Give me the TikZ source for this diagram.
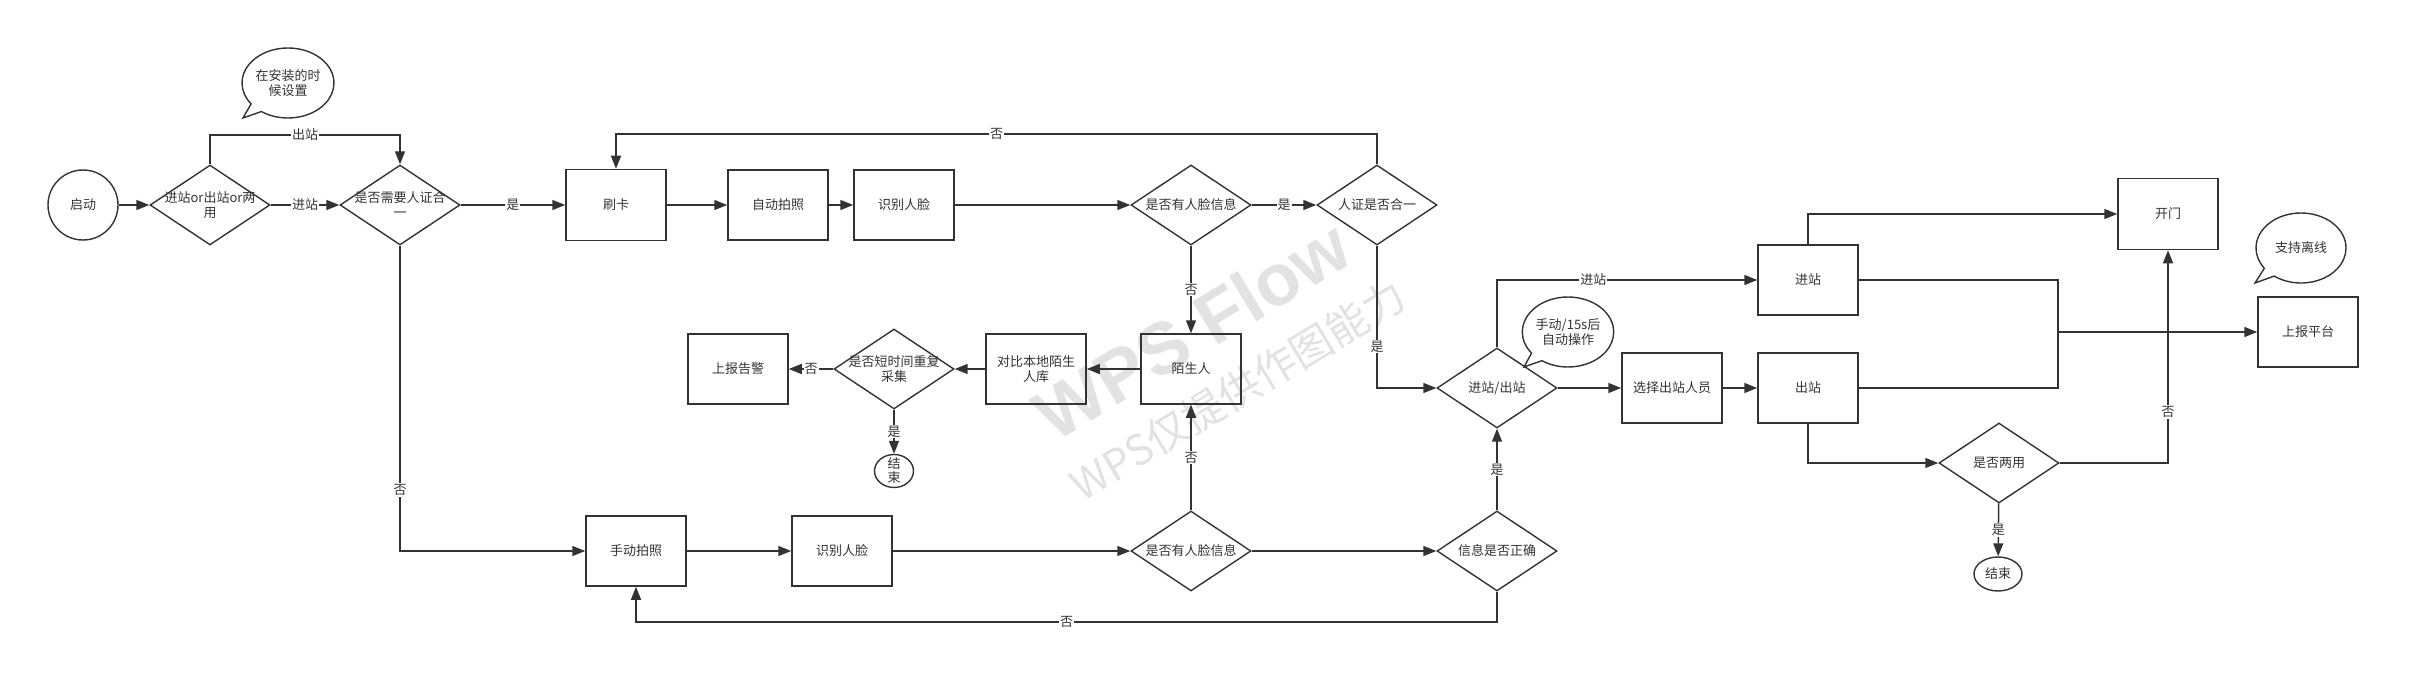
\documentclass[tikz,border=0pt]{standalone}
\usepackage{fontspec}
\setmainfont{Noto Sans CJK SC}
\newfontfamily\wmfont{Liberation Sans}
\usetikzlibrary{shapes.geometric,shapes.callouts,arrows.meta}
\definecolor{ink}{HTML}{333333}
\definecolor{wmark}{HTML}{E2E2E2}

\begin{document}
\begin{tikzpicture}[x=1pt, y=-1pt,
  every node/.style={font=\fontsize{13}{15}\selectfont, text=ink},
  box/.style={draw=ink, line width=1.5pt, minimum width=100pt, minimum height=70pt, inner sep=0pt, align=center},
  decision/.style={diamond, draw=ink, line width=1.4pt, minimum width=120pt, minimum height=80pt, inner sep=0pt},
  terminal/.style={ellipse, draw=ink, line width=1.4pt, inner sep=0pt, align=center},
  note/.style={ellipse callout, draw=ink, line width=1.4pt, minimum width=90pt, minimum height=70pt, inner sep=0pt, align=center, callout pointer arc=18},
  line/.style={draw=ink, line width=1.5pt},
  flow/.style={line, -{Triangle[length=13pt,width=10pt]}},
  lbl/.style={fill=white, inner sep=1pt},
  wm/.style={text=wmark, inner sep=0pt}]

\newcommand\TopY{205}
\newcommand\MidY{369}
\newcommand\LowY{551}

\useasboundingbox (0,0) rectangle (2420,682);

%% watermark
\node[wm, font=\wmfont\bfseries\fontsize{73}{78}\selectfont, rotate=31] (wmA) at (1192,330) {WPS Flow};
\node[wm, font=\fontsize{42}{46}\selectfont, rotate=31] (wmB) at (1238,390) {WPS仅提供作图能力};

%% top row
\node[terminal, minimum width=70pt, minimum height=70pt] (start) at (83,\TopY) {启动};
\node[decision, label={[align=center]center:{进站or出站or两\\用}}] (mode) at (210,\TopY) {};
\node[decision, label={[align=center]center:{是否需要人证合\\一}}] (verify) at (400,\TopY) {};
\node[note, callout absolute pointer={(243,118)}] (noteA) at (288,83) {在安装的时\\候设置};
\node[box, minimum height=71pt] (card) at (616,\TopY) {刷卡};
\node[box] (autoshot) at (778,\TopY) {自动拍照};
\node[box] (recogA) at (904,\TopY) {识别人脸};
\node[decision, label=center:是否有人脸信息] (faceA) at (1191,\TopY) {};
\node[decision, label=center:人证是否合一] (match) at (1377,\TopY) {};

%% stranger row
\node[box] (stranger) at (1191,\MidY) {陌生人};
\node[box] (compare) at (1036,\MidY) {对比本地陌生\\人库};
\node[decision, label={[align=center]center:{是否短时间重复\\采集}}] (repeat) at (894,\MidY) {};
\node[box] (alarm) at (738,\MidY) {上报告警};
\node[terminal, minimum width=39pt, minimum height=33pt, label={[align=center, font=\fontsize{13}{14}\selectfont]center:{结\\束}}] (endA) at (894,471) {};

%% manual row
\node[box] (manual) at (636,\LowY) {手动拍照};
\node[box] (recogB) at (842,\LowY) {识别人脸};
\node[decision, label=center:是否有人脸信息] (faceB) at (1191,\LowY) {};
\node[decision, label=center:信息是否正确] (infook) at (1497,\LowY) {};

%% gate
\node[decision, label=center:进站/出站] (inout) at (1497,388) {};
\node[note, callout absolute pointer={(1524,367)}] (noteB) at (1568,332) {手动/15s后\\自动操作};
\node[box] (choose) at (1672,388) {选择出站人员};
\node[box] (enter) at (1808,280) {进站};
\node[box] (exit) at (1808,388) {出站};
\node[box, minimum height=71pt] (door) at (2168,214) {开门};
\node[box] (report) at (2308,332) {上报平台};
\node[note, callout absolute pointer={(2255,283)}] (noteC) at (2301,248) {支持离线};
\node[decision, label=center:是否两用] (both) at (1999,463) {};
\node[terminal, minimum width=48pt, minimum height=34pt] (endB) at (1998,574) {结束};

\coordinate (loopA) at (0,135);
\coordinate (loopB) at (0,134);
\coordinate (loopC) at (0,622);
\coordinate (join) at (2058,332);

%%
\draw[flow] (start) -- (mode);
\draw[flow] (mode) -- node[lbl]{进站} (verify);
\draw[flow] (mode.north) -- (mode.north |- loopA) -- node[lbl]{出站} (verify.north |- loopA) -- (verify.north);
\draw[flow] (verify) -- node[lbl]{是} (card);
\draw[flow] (card) -- (autoshot);
\draw[flow] (autoshot) -- (recogA);
\draw[flow] (recogA) -- (faceA);
\draw[flow] (faceA) -- node[lbl]{是} (match);
\draw[flow] (match.north) -- (match.north |- loopB) -- node[lbl]{否} (card.north |- loopB) -- (card.north);
\draw[flow] (faceA) -- node[lbl]{否} (stranger);
%%
\draw[flow] (stranger) -- (compare);
\draw[flow] (compare) -- (repeat);
\draw[flow] (repeat) -- node[lbl]{否} (alarm);
\draw[flow] (repeat) -- node[lbl]{是} (endA);
%%
\draw[flow] (verify.south) |- node[lbl, pos=0.4]{否} (manual.west);
\draw[flow] (manual) -- (recogB);
\draw[flow] (recogB) -- (faceB);
\draw[flow] (faceB) -- (infook);
\draw[flow] (faceB) -- node[lbl]{否} (stranger);
\draw[flow] (infook) -- node[lbl]{是} (inout);
\draw[flow] (infook.south) -- (infook.south |- loopC) -- node[lbl]{否} (manual.south |- loopC) -- (manual.south);
%%
\draw[flow] (match.south) |- node[lbl, pos=0.355]{是} (inout.west);
\draw[flow] (inout.north) |- node[lbl, pos=0.685]{进站} (enter.west);
\draw[flow] (inout) -- (choose);
\draw[flow] (choose) -- (exit);
\draw[flow] (enter.north) |- (door.west);
\draw[line] (enter.east) -| (join);
\draw[line] (exit.east) -| (join);
\draw[flow] (join) -- (report);
\draw[flow] (exit.south) |- (both.west);
\draw[flow] (both.east) -| node[lbl, pos=0.62]{否} (door.south);
\draw[flow] (both) -- node[lbl]{是} (endB);

\end{tikzpicture}
\end{document}
